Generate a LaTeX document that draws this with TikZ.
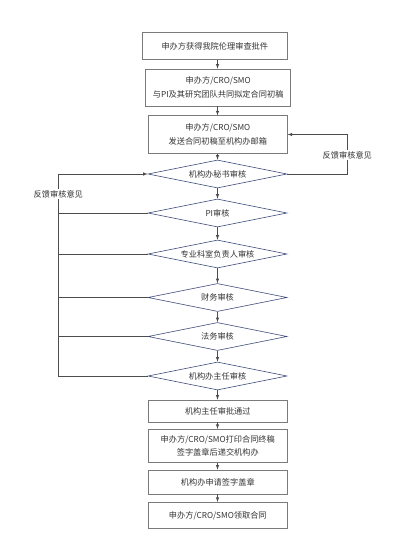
\documentclass[tikz,border=0pt]{standalone}
\usepackage{fontspec}
\setmainfont{Noto Sans CJK SC}
\usetikzlibrary{shapes.geometric}

\definecolor{boxgray}{HTML}{7A7A7A}
\definecolor{diablue}{HTML}{3C4A78}
\definecolor{linegray}{HTML}{4D4D4D}
\definecolor{txtgray}{HTML}{333333}

\tikzset{
  stepbox/.style={draw=boxgray, line width=0.6pt, align=center, inner sep=0pt,
    minimum width=139pt, text=txtgray, font=\fontsize{8.2}{13.3}\selectfont},
  check/.style={diamond, draw=diablue, line width=0.6pt, inner sep=0pt,
    shape aspect=5, minimum width=139pt, minimum height=28pt,
    text=txtgray, font=\fontsize{8.2}{10}\selectfont},
  link/.style={draw=linegray, line width=0.6pt},
  arrow/.style={link, -latex},
  fbnote/.style={fill=white, inner sep=1pt, text=txtgray, font=\fontsize{8.2}{10}\selectfont}
}

\begin{document}
\begin{tikzpicture}[x=1pt,y=-1pt]
\useasboundingbox (0,0) rectangle (419,546);

% Nodes
\node[stepbox, minimum width=145pt, minimum height=26.5pt] (b1) at (214.8,46) {申办方获得我院伦理审查批件};
\node[stepbox, minimum width=145pt, minimum height=37pt] (b2) at (218.2,87.5) {申办方/CRO/SMO\\与PI及其研究团队共同拟定合同初稿};
\node[stepbox, minimum height=37.5pt] (b3) at (217.8,134.5) {申办方/CRO/SMO\\发送合同初稿至机构办邮箱};
\node[check] (d1) at (217.5,174) {机构办秘书审核};
\node[check] (d2) at (217.5,213) {PI审核};
\node[check] (d3) at (217.5,254) {专业科室负责人审核};
\node[check] (d4) at (217.5,297.5) {财务审核};
\node[check] (d5) at (217.5,336.5) {法务审核};
\node[check] (d6) at (217.5,376) {机构办主任审核};
\node[stepbox, minimum height=22pt] (b7) at (217.8,411) {机构主任审批通过};
\node[stepbox, minimum height=33pt] (b8) at (217.8,445.7) {申办方/CRO/SMO打印合同终稿\\签字盖章后递交机构办};
\node[stepbox, minimum height=24pt] (b9) at (217.8,482) {机构办申请签字盖章};
\node[stepbox, minimum height=26pt] (b10) at (217.8,515.3) {申办方/CRO/SMO领取合同};

% Lines
\foreach \a/\b in {b1/b2,b2/b3,b3/d1,d1/d2,d2/d3,d3/d4,d4/d5,d5/d6,d6/b7,b7/b8,b8/b9,b9/b10}
  \draw[arrow] (\a.south -| d1.center) -- (\b.north -| d1.center);

% feedback, left side
\coordinate (lt) at (58.3,174);
\draw[arrow] (d6.west) -| (lt) -- (d1.west);
\foreach \d in {d2,d3,d4,d5}
  \draw[link] (\d.west) -- (\d.west -| lt);
\node[fbnote] (fbl) at (58.3,194) {反馈审核意见};

% feedback, right side
\coordinate (rt) at (347.3,134.5);
\draw[arrow] (d1.east) -| (rt) -- (b3.east);
\node[fbnote] (fbr) at (347.3,155) {反馈审核意见};

\end{tikzpicture}
\end{document}
